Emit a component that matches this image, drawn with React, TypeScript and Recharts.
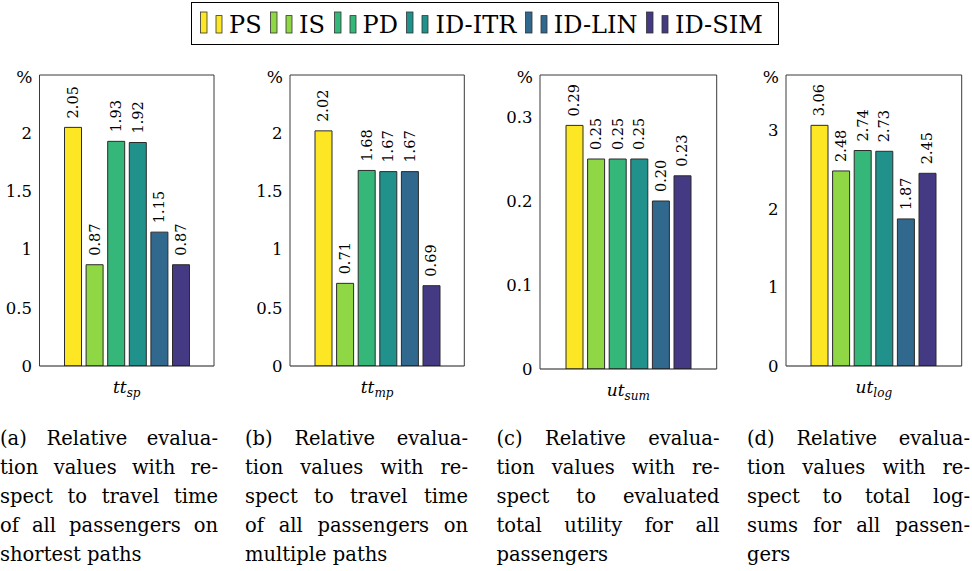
import React from 'react';
import { BarChart, Bar, XAxis, YAxis, LabelList, Legend } from 'recharts';

const FONT = "'DejaVu Serif', serif";

// ---------- data ----------
const seriesNames = ['PS', 'IS', 'PD', 'ID-ITR', 'ID-LIN', 'ID-SIM'];
const seriesColors = ['#fde725', '#8fd744', '#35b779', '#21918c', '#31688e', '#443983'];

const categories = ['tt_sp', 'tt_mp', 'ut_sum', 'ut_log'];

const valuesTtSp = [2.05, 0.87, 1.93, 1.92, 1.15, 0.87];
const valuesTtMp = [2.02, 0.71, 1.68, 1.67, 1.67, 0.69];
const valuesUtSum = [0.29, 0.25, 0.25, 0.25, 0.2, 0.23];
const valuesUtLog = [3.06, 2.48, 2.74, 2.73, 1.87, 2.45];

const ticksTt = [0, 0.5, 1, 1.5, 2];
const ticksUtSum = [0, 0.1, 0.2, 0.3];
const ticksUtLog = [0, 1, 2, 3];

const yMaxTt = 2.5;
const yMaxUtSum = 0.35;
const yMaxUtLog = 3.7;

const captionA = ['(a) Relative evalua-', 'tion values with re-', 'spect to travel time', 'of all passengers on', 'shortest paths'];
const captionB = ['(b) Relative evalua-', 'tion values with re-', 'spect to travel time', 'of all passengers on', 'multiple paths'];
const captionC = ['(c) Relative evalua-', 'tion values with re-', 'spect to evaluated', 'total utility for all', 'passengers'];
const captionD = ['(d) Relative evalua-', 'tion values with re-', 'spect to total log-', 'sums for all passen-', 'gers'];

const buildRow = (cat: string, values: number[]) => {
  const row: Record<string, any> = { cat };
  seriesNames.forEach((n, i) => {
    row[n] = values[i];
  });
  return row;
};

// ---------- layout ----------
const CHART_H = 410;
const panels = [
  { left: 0, width: 250, yWidth: 39.5, right: 36, bottom: 366, cat: categories[0], values: valuesTtSp, ticks: ticksTt, yMax: yMaxTt, caption: captionA, capLeft: 0, capWidth: 218 },
  { left: 250, width: 250, yWidth: 40, right: 35.7, bottom: 366, cat: categories[1], values: valuesTtMp, ticks: ticksTt, yMax: yMaxTt, caption: captionB, capLeft: 245, capWidth: 223 },
  { left: 500, width: 250, yWidth: 40, right: 33.3, bottom: 369, cat: categories[2], values: valuesUtSum, ticks: ticksUtSum, yMax: yMaxUtSum, caption: captionC, capLeft: 496.5, capWidth: 223 },
  { left: 740, width: 232, yWidth: 46, right: 10.3, bottom: 366, cat: categories[3], values: valuesUtLog, ticks: ticksUtLog, yMax: yMaxUtLog, caption: captionD, capLeft: 747, capWidth: 223 },
];

const FRAME = '#3a3a3a';
const TICK_GRAY = '#8a8a8a';

const XTick = (props: any) => {
  const { x, y, payload } = props;
  const [main, sub] = String(payload.value).split('_');
  return (
    <text x={x} y={y + 27} textAnchor="middle" fontFamily={FONT} fontStyle="italic" fontSize={17} fill="#000">
      {main}
      <tspan fontSize={12} dy={4}>{sub}</tspan>
    </text>
  );
};

const renderPercent = (props: any) => {
  const vb = props.viewBox || {};
  return (
    <text x={vb.x + vb.width - 7} y={vb.y + 8} textAnchor="end" fontFamily={FONT} fontSize={17} fill="#000">
      %
    </text>
  );
};

const renderBarLabel = (props: any) => {
  const vb = props.viewBox && props.viewBox.width != null ? props.viewBox : props;
  const { x, y, width } = vb;
  const value = props.value;
  if (value == null) return null;
  const cx = x + width / 2;
  const ty = y - 9;
  return (
    <text
      x={cx}
      y={ty}
      transform={`rotate(-90, ${cx}, ${ty})`}
      textAnchor="start"
      dominantBaseline="central"
      fontFamily={FONT}
      fontSize={14.5}
      fill="#000"
    >
      {Number(value).toFixed(2)}
    </text>
  );
};

const renderLegend = (props: any) => {
  const payload = (props.payload || [])
    .filter((p: any) => seriesNames.includes(String(p.value)))
    .slice()
    .sort((a: any, b: any) => seriesNames.indexOf(String(a.value)) - seriesNames.indexOf(String(b.value)));
  return (
    <div
      style={{
        position: 'relative',
        boxSizing: 'border-box',
        width: 588,
        height: 43,
        border: '1px solid #000',
        background: '#fff',
      }}
    >
      <div
        style={{
          position: 'absolute',
          left: 8,
          top: 8,
          display: 'flex',
          alignItems: 'baseline',
          fontFamily: FONT,
          fontSize: 24,
          lineHeight: '24px',
          whiteSpace: 'nowrap',
          color: '#000',
        }}
      >
        {payload.map((p: any) => (
          <div key={p.value} style={{ display: 'flex', alignItems: 'baseline', marginRight: 8.5, flexShrink: 0 }}>
            <svg width={22} height={22} style={{ width: 22, height: 22, minWidth: 22, flexShrink: 0, marginRight: 7, overflow: 'visible' }}>
              <rect x={0.5} y={1} width={6.5} height={21} fill={p.color} stroke="#333" strokeWidth={0.8} />
              <rect x={16} y={4.6} width={6} height={17.4} fill={p.color} stroke="#333" strokeWidth={0.8} />
            </svg>
            <span>{p.value}</span>
          </div>
        ))}
      </div>
    </div>
  );
};

const Panel = ({ cfg, showLegend }: { cfg: any; showLegend: boolean }) => {
  const data = [buildRow(cfg.cat, cfg.values)];
  return (
    <div style={{ position: 'absolute', left: cfg.left, top: 0 }}>
      <BarChart
        width={cfg.width}
        height={CHART_H}
        data={data}
        margin={{ top: 74, right: cfg.right, bottom: 0, left: 0 }}
        barSize={17}
        barGap={4.6}
      >
        <XAxis
          dataKey="cat"
          type="category"
          height={CHART_H - cfg.bottom}
          tickLine={false}
          axisLine={{ stroke: '#1a1a1a', strokeWidth: 1.2 }}
          tickSize={0}
          tickMargin={0}
          interval={0}
          tick={<XTick />}
        />
        <XAxis
          xAxisId="top"
          orientation="top"
          dataKey="cat"
          type="category"
          height={1}
          tick={false}
          tickLine={false}
          axisLine={{ stroke: FRAME, strokeWidth: 1 }}
        />
        <YAxis
          yAxisId="v"
          type="number"
          width={cfg.yWidth}
          domain={[0, cfg.yMax]}
          ticks={cfg.ticks}
          allowDataOverflow
          tickLine={false}
          axisLine={{ stroke: FRAME, strokeWidth: 1 }}
          tickSize={0}
          tickMargin={7.5}
          tick={{ fontSize: 16.5, fill: '#000', fontFamily: FONT }}
          label={renderPercent}
        />
        <YAxis
          yAxisId="tl"
          type="number"
          orientation="left"
          mirror
          width={1}
          domain={[0, cfg.yMax]}
          ticks={cfg.ticks}
          allowDataOverflow
          tick={false}
          axisLine={false}
          tickSize={6.5}
          tickLine={{ stroke: TICK_GRAY, strokeWidth: 1 }}
        />
        <YAxis
          yAxisId="tr"
          type="number"
          orientation="right"
          mirror
          width={1}
          domain={[0, cfg.yMax]}
          ticks={cfg.ticks}
          allowDataOverflow
          tick={false}
          axisLine={{ stroke: FRAME, strokeWidth: 1 }}
          tickSize={6.5}
          tickLine={{ stroke: TICK_GRAY, strokeWidth: 1 }}
        />
        {seriesNames.map((name, i) => (
          <Bar
            key={name}
            yAxisId="v"
            dataKey={name}
            name={name}
            fill={seriesColors[i]}
            stroke="#2b2b2b"
            strokeWidth={1}
            isAnimationActive={false}
          >
            <LabelList dataKey={name} content={renderBarLabel} />
          </Bar>
        ))}
        {showLegend && (
          <Legend
            layout="horizontal"
            verticalAlign="middle"
            align="center"
            content={renderLegend}
            wrapperStyle={{ left: 191, top: 1.5, width: 588, height: 43 }}
          />
        )}
      </BarChart>
    </div>
  );
};

const Caption = ({ lines, left, width }: { lines: string[]; left: number; width: number }) => (
  <div style={{ position: 'absolute', left, top: 423.75, width, fontFamily: FONT, fontSize: 19.5, color: '#000' }}>
    {lines.map((line, i) => (
      <div
        key={i}
        style={{
          height: 29,
          lineHeight: '29px',
          whiteSpace: 'nowrap',
          textAlign: i < lines.length - 1 ? 'justify' : 'left',
          textAlignLast: i < lines.length - 1 ? 'justify' : 'left',
        } as any}
      >
        {line}
      </div>
    ))}
  </div>
);

export default function App() {
  return (
    <div
      style={{
        position: 'absolute',
        left: 0,
        top: 0,
        width: 972,
        height: 571,
        overflow: 'hidden',
        background: '#fff',
      }}
    >
      {panels.map((p, i) => (
        <Caption key={'c' + i} lines={p.caption} left={p.capLeft} width={p.capWidth} />
      ))}
      {panels.map((p, i) => (
        <Panel key={'p' + i} cfg={p} showLegend={i === 0} />
      ))}
    </div>
  );
}
